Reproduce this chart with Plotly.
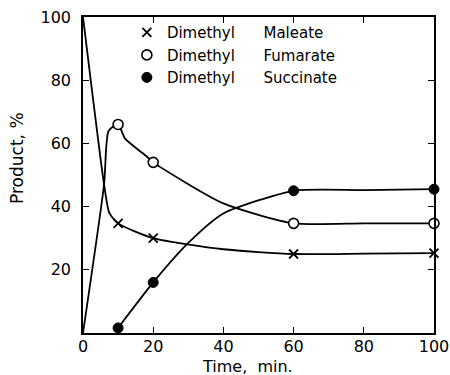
import plotly.graph_objects as go

# Measured data points (markers)
time_pts = [10, 20, 60, 100]
maleate = [34.7, 30, 25, 25.3]
fumarate = [66, 54, 34.7, 34.7]
succinate = [1.6, 16, 45, 45.5]

# Hand-drawn curve paths
maleate_curve_t = [0, 6, 7.5, 10, 20, 40, 60, 80, 100]
maleate_curve_y = [100, 47, 38, 34.7, 30, 26.5, 25, 25.1, 25.3]
fumarate_curve_t = [0, 6, 7.3, 10, 12, 18, 20, 40, 60, 80, 100]
fumarate_curve_y = [0, 47, 64, 66, 61.5, 56, 54, 41, 34.7, 34.7, 34.7]
succinate_curve_t = [10, 20, 30, 40, 60, 80, 100]
succinate_curve_y = [1.6, 16, 28.5, 37.8, 45, 45.2, 45.5]

labels = ["Dimethyl" + "\u00a0" * 6 + "Maleate",
          "Dimethyl" + "\u00a0" * 6 + "Fumarate",
          "Dimethyl" + "\u00a0" * 6 + "Succinate"]

x_ticks = [0, 20, 40, 60, 80, 100]
y_ticks = [20, 40, 60, 80, 100]

FONT = "DejaVu Sans"
fig = go.Figure()

line_style = dict(color="black", width=1.8, shape="spline", smoothing=0.6)
for t, y in [(maleate_curve_t, maleate_curve_y),
             (fumarate_curve_t, fumarate_curve_y),
             (succinate_curve_t, succinate_curve_y)]:
    fig.add_trace(go.Scatter(x=t, y=y, mode="lines", line=line_style,
                             showlegend=False, hoverinfo="skip", cliponaxis=False))

fig.add_trace(go.Scatter(x=time_pts, y=maleate, mode="markers", name=labels[0],
                         marker=dict(symbol="x-thin-open", size=9, color="black",
                                     line=dict(width=1.8, color="black")),
                         cliponaxis=False))
fig.add_trace(go.Scatter(x=time_pts, y=fumarate, mode="markers", name=labels[1],
                         marker=dict(symbol="circle", size=10, color="white",
                                     line=dict(width=1.6, color="black")),
                         cliponaxis=False))
fig.add_trace(go.Scatter(x=time_pts, y=succinate, mode="markers", name=labels[2],
                         marker=dict(symbol="circle", size=10, color="black",
                                     line=dict(width=1, color="black")),
                         cliponaxis=False))

axis_common = dict(showline=True, linecolor="black", linewidth=1.5, mirror="allticks",
                   ticks="inside", ticklen=6, tickwidth=1.3, tickcolor="black",
                   showgrid=False, zeroline=False, automargin=False,
                   tickfont=dict(family=FONT, size=16, color="black"))

fig.update_xaxes(range=[0, 100], tickvals=x_ticks, ticklabelstandoff=-2, **axis_common)
fig.update_yaxes(range=[0, 100], tickvals=y_ticks, ticklabelstandoff=7, **axis_common)

fig.add_annotation(text="Time,\u00a0 min.", xref="paper", yref="paper",
                   x=0.47, y=-0.106, xanchor="center", yanchor="middle", showarrow=False,
                   font=dict(family=FONT, size=16, color="black"))
fig.add_annotation(text="Product, %", xref="paper", yref="paper", textangle=-90,
                   x=-0.188, y=0.554, xanchor="center", yanchor="middle", showarrow=False,
                   font=dict(family=FONT, size=17, color="black"))

fig.update_layout(
    width=450, height=375,
    margin=dict(l=83, r=16, t=17, b=42, autoexpand=False),
    plot_bgcolor="white", paper_bgcolor="white",
    showlegend=True,
    legend=dict(x=0.125, xref="paper", y=0.957, yref="container",
                xanchor="left", yanchor="top",
                bgcolor="rgba(0,0,0,0)", borderwidth=0,
                font=dict(family=FONT, size=15, color="black"),
                tracegroupgap=0, itemwidth=30),
)

fig.write_html("out.html", config={"displayModeBar": False},
               post_script="document.body.style.margin='0';")
